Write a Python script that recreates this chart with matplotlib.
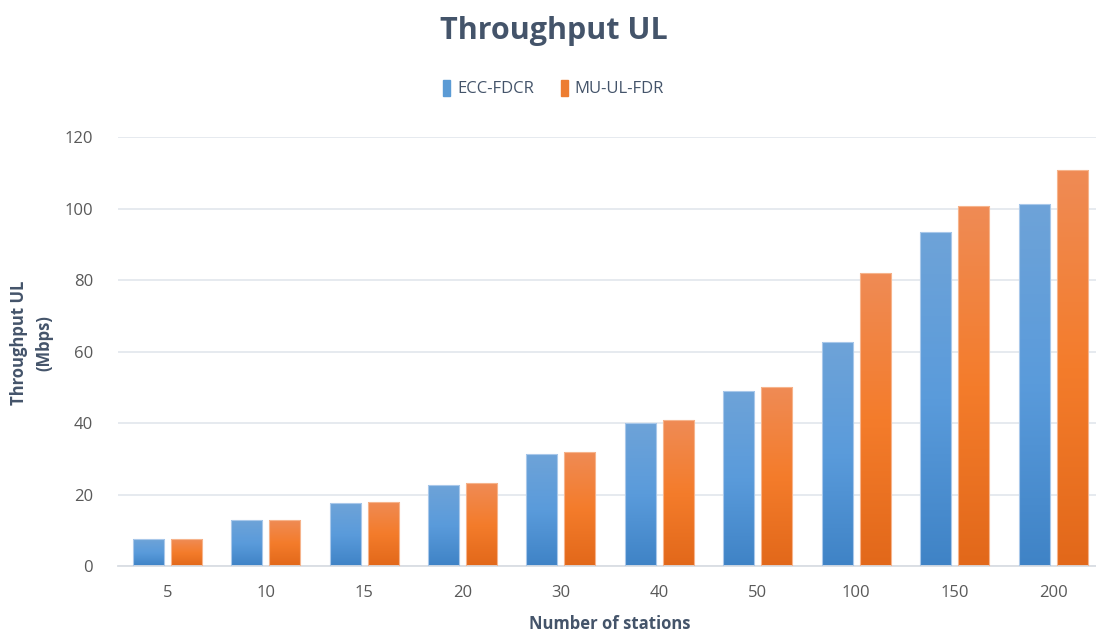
import matplotlib
matplotlib.use('Agg')
import matplotlib.pyplot as plt
from matplotlib.colors import LinearSegmentedColormap
import numpy as np

plt.rcParams['font.family'] = ['Open Sans', 'DejaVu Sans']

stations = ['5', '10', '15', '20', '30', '40', '50', '100', '150', '200']
ecc_fdcr = [7.5, 12.8, 17.5, 22.7, 31.3, 40.1, 49.1, 62.6, 93.4, 101.3]
mu_ul_fdr = [7.5, 12.8, 18.0, 23.2, 31.9, 40.8, 50.0, 81.9, 100.6, 110.7]

TITLE = '#44546A'
TICK = '#595959'
GRID = '#E4E8EE'

# vertical gradients: light at top, saturated middle, darker at the base
blue_cm = LinearSegmentedColormap.from_list('b', ['#3F83C6', '#5A9BDB', '#6EA3D8'])
orange_cm = LinearSegmentedColormap.from_list('o', ['#E2681A', '#F47C2B', '#EF8B55'])

fig = plt.figure(figsize=(10.96, 6.36), dpi=100)
ax = fig.add_axes([0.1077, 0.110, 0.898, 0.6745])

x = np.arange(len(stations))
w = 0.315
off = 0.193
grad = np.linspace(0, 1, 256).reshape(-1, 1)


def gradient_bars(bars, cmap, edge):
    for b in bars:
        x0, y0 = b.get_x(), b.get_y()
        bw, bh = b.get_width(), b.get_height()
        b.set_facecolor('none')
        b.set_edgecolor(edge)
        b.set_linewidth(0.8)
        im = ax.imshow(grad, cmap=cmap, origin='lower', aspect='auto',
                       extent=(x0, x0 + bw, y0, y0 + bh), zorder=2)
        im.set_clip_path(b)


b1 = ax.bar(x - off, ecc_fdcr, w, label='ECC-FDCR', color='#5B9BD5', zorder=3)
b2 = ax.bar(x + off, mu_ul_fdr, w, label='MU-UL-FDR', color='#ED7D31', zorder=3)
gradient_bars(b1, blue_cm, '#A9C8EA')
gradient_bars(b2, orange_cm, '#F6B48C')

ax.set_xlim(-0.5, len(stations) - 0.5)
ax.set_ylim(0, 120)
ax.set_yticks(range(0, 121, 20))
ax.set_xticks(x)
ax.set_xticklabels(stations)
ax.yaxis.grid(True, color=GRID, lw=1.3, zorder=0)
ax.set_axisbelow(True)
for s in ['top', 'right', 'left']:
    ax.spines[s].set_visible(False)
ax.spines['bottom'].set_color('#D9DDE3')
ax.spines['bottom'].set_linewidth(1.3)
ax.tick_params(axis='both', length=0, labelsize=12, colors=TICK, pad=14)
ax.tick_params(axis='y', pad=18)

ax.set_xlabel('Number of stations', fontsize=12, fontweight='bold', color=TITLE, labelpad=10)
fig.text(0.029, 0.461, 'Throughput UL\n(Mbps)', rotation=90, ha='center', va='center',
         fontsize=12, fontweight='bold', color=TITLE, linespacing=1.5)

fig.text(0.505, 0.952, 'Throughput UL', ha='center', va='center',
         fontsize=22, fontweight='bold', color=TITLE)

handles = [plt.Rectangle((0, 0), 1, 1, color='#5B9BD5'),
           plt.Rectangle((0, 0), 1, 1, color='#ED7D31')]
fig.legend(handles, ['ECC-FDCR', 'MU-UL-FDR'], loc='center', bbox_to_anchor=(0.505, 0.861),
           ncol=2, frameon=False, fontsize=12, handlelength=0.45, handleheight=1.1,
           handletextpad=0.4, columnspacing=1.6, labelcolor=TITLE)

fig.savefig('out.png', dpi=100, facecolor='white')
